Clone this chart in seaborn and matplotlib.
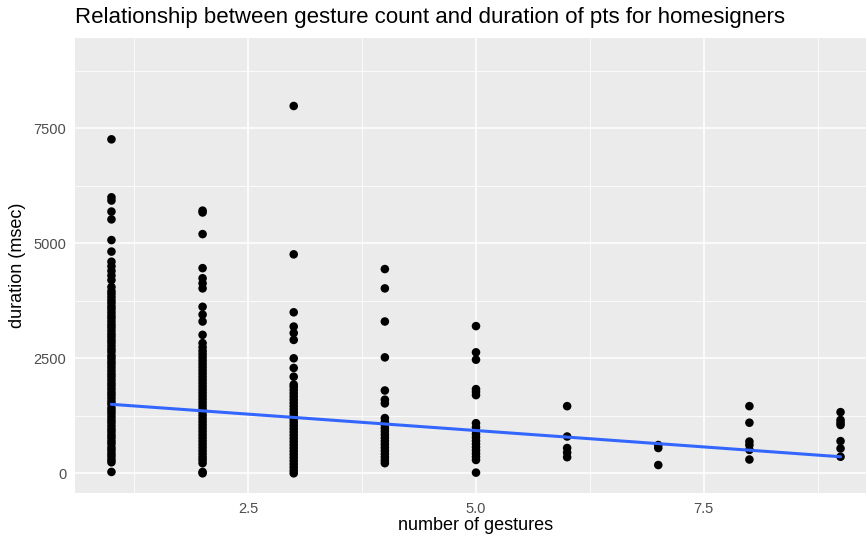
import matplotlib
matplotlib.use("Agg")
import matplotlib.pyplot as plt
from matplotlib.ticker import FixedLocator
import seaborn as sns
import pandas as pd

# ---- data ----
dur_1 = [30, 240, 300, 370, 430, 500, 560, 640, 700, 770, 830, 900, 960, 1030, 1100,
         1160, 1230, 1300, 1360, 1420, 1500, 1560, 1630, 1700, 1760, 1830, 1900, 1960,
         2030, 2100, 2160, 2230, 2300, 2370, 2430, 2500, 2560, 2640, 2700, 2770, 2840,
         2900, 2970, 3030, 3100, 3170, 3230, 3300, 3370, 3430, 3500, 3570, 3630, 3700,
         3760, 3830, 3900, 3960, 4050, 4200, 4300, 4400, 4500, 4600, 4820, 5070, 5520,
         5690, 5930, 6000, 7260]
dur_2 = [0, 30, 220, 290, 350, 420, 490, 560, 630, 700, 770, 840, 910, 980, 1050, 1120,
         1190, 1260, 1330, 1400, 1470, 1540, 1610, 1680, 1750, 1820, 1890, 1960, 2030,
         2100, 2170, 2240, 2310, 2380, 2450, 2520, 2590, 2660, 2740, 2830, 3010, 3300,
         3450, 3620, 4020, 4130, 4240, 4460, 5200, 5670, 5710]
dur_3 = [0, 60, 130, 200, 270, 340, 410, 480, 550, 620, 690, 760, 830, 900, 970, 1040,
         1110, 1180, 1250, 1320, 1390, 1460, 1530, 1600, 1670, 1740, 1810, 1880, 1930,
         2100, 2290, 2500, 2900, 3050, 3190, 3500, 4760, 7985]
dur_4 = [220, 280, 350, 420, 490, 560, 630, 700, 770, 840, 910, 980, 1050, 1120, 1200,
         1520, 1600, 1800, 2520, 3300, 4020, 4440]
dur_5 = [15, 290, 360, 430, 500, 570, 640, 710, 780, 850, 920, 1000, 1090, 1700, 1770,
         1830, 2470, 2630, 3200]
dur_6 = [350, 450, 550, 800, 1460]
dur_7 = [180, 550, 615]
dur_8 = [300, 510, 615, 690, 1100, 1460]
dur_9 = [360, 540, 700, 1050, 1100, 1160, 1330]

gesture_counts = [1, 2, 3, 4, 5, 6, 7, 8, 9]
durations = [dur_1, dur_2, dur_3, dur_4, dur_5, dur_6, dur_7, dur_8, dur_9]

# linear fit line
fit_x = [1, 9]
fit_y = [1500, 360]

x_ticks = [2.5, 5.0, 7.5]
x_tick_labels = ["2.5", "5.0", "7.5"]
y_ticks = [0, 2500, 5000, 7500]
y_tick_labels = ["0", "2500", "5000", "7500"]

title = "Relationship between gesture count and duration of pts for homesigners"
x_label = "number of gestures"
y_label = "duration (msec)"

rows = []
for g, ds in zip(gesture_counts, durations):
    for d in ds:
        rows.append({"gestures": g, "duration": d})
df = pd.DataFrame(rows)
fit_df = pd.DataFrame({"gestures": fit_x, "duration": fit_y})

# ---- plot ----
sns.set_style("white")
plt.rcParams["font.family"] = ["Liberation Sans", "DejaVu Sans"]

W, H = 866, 539
fig = plt.figure(figsize=(W / 100, H / 100), dpi=100)
ax = fig.add_axes([75 / W, 46 / H, 802 / W, 455 / H])
ax.set_facecolor("#EBEBEB")
for s in ax.spines.values():
    s.set_visible(False)

sns.scatterplot(data=df, x="gestures", y="duration", ax=ax, color="black",
                s=38, edgecolor="none", linewidth=0, zorder=3)
sns.lineplot(data=fit_df, x="gestures", y="duration", ax=ax, color="#3366FF",
             linewidth=2.2, zorder=4)

ax.set_xlim(0.6, 9.4)
ax.set_ylim(-428, 9463)

ax.xaxis.set_major_locator(FixedLocator(x_ticks))
ax.set_xticklabels(x_tick_labels)
ax.yaxis.set_major_locator(FixedLocator(y_ticks))
ax.set_yticklabels(y_tick_labels)
ax.xaxis.set_minor_locator(FixedLocator([1.25, 3.75, 6.25, 8.75]))
ax.yaxis.set_minor_locator(FixedLocator([1250, 3750, 6250, 8750]))

ax.grid(which="major", color="white", linewidth=1.1, zorder=0)
ax.grid(which="minor", color="white", linewidth=0.55, zorder=0)
ax.set_axisbelow(True)

ax.tick_params(which="major", length=3.3, width=0.8, color="#333333",
               labelcolor="#4D4D4D", labelsize=10.5, pad=3)
ax.tick_params(which="minor", length=0)

ax.set_xlabel(x_label, fontsize=13, color="black")
ax.set_ylabel(y_label, fontsize=13, color="black")
ax.xaxis.set_label_coords((476 - 75) / 802, -(525 - 493) / 455)
ax.xaxis.label.set_va("center")
ax.yaxis.set_label_coords((18 - 75) / 802, 0.5)
ax.yaxis.label.set_va("center")

fig.text(75 / W, 1 - 18 / H, title, fontsize=16, color="black",
         ha="left", va="center")

fig.savefig("out.png", dpi=100)
